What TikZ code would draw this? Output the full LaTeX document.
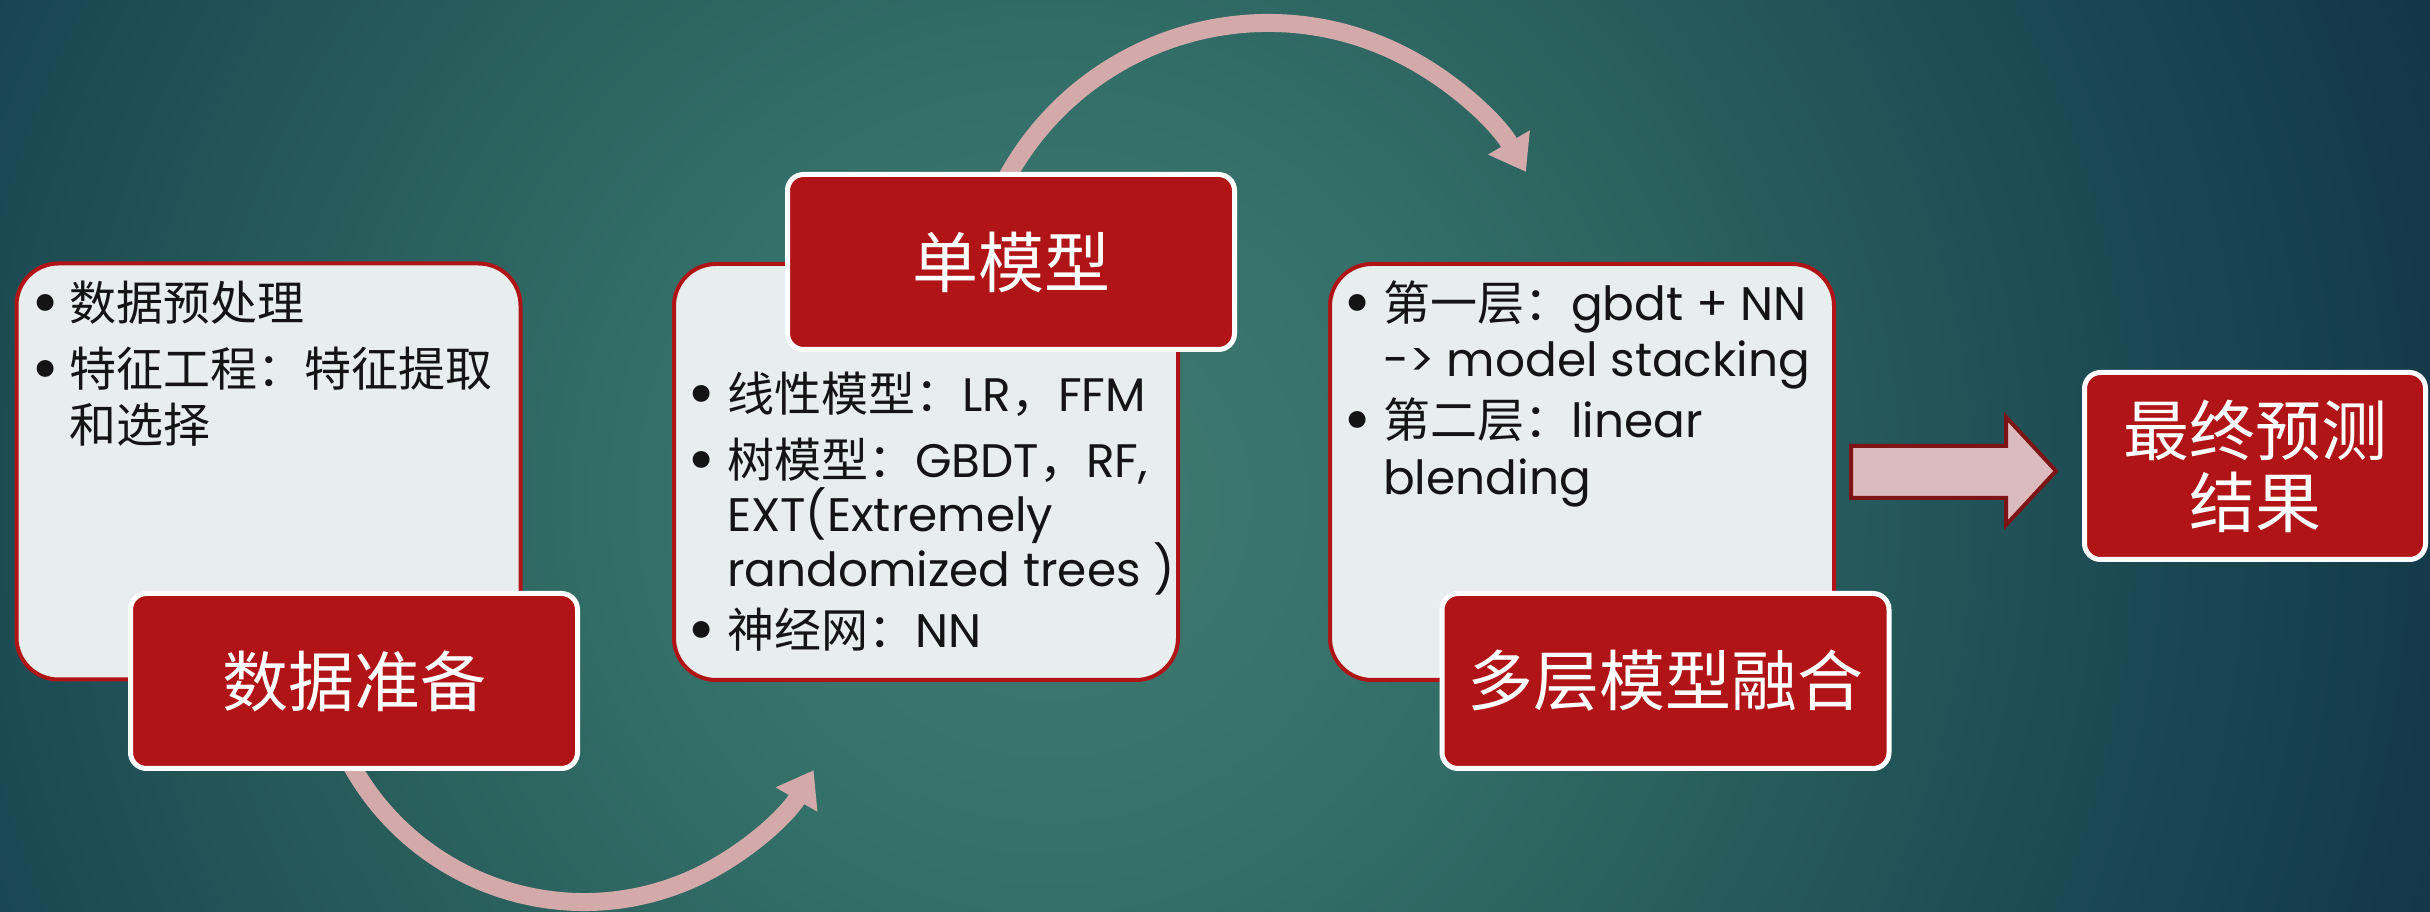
\documentclass[tikz,border=0pt]{standalone}
\usepackage{fontspec}
\setmainfont{Poppins}
\newfontfamily\cjk{Noto Sans CJK SC}
\newfontfamily\bulfont{DejaVu Sans}
\usetikzlibrary{arrows.meta}
\definecolor{boxred}{HTML}{B01416}
\definecolor{lightfill}{HTML}{E8EDED}
\definecolor{pinkarrow}{HTML}{D4A9A9}
\definecolor{blockfill}{HTML}{DCBBBC}
\definecolor{blockline}{HTML}{7D1416}
\definecolor{bgA}{HTML}{417B71}
\definecolor{bgB}{HTML}{34706A}
\definecolor{bgC}{HTML}{2A605D}
\definecolor{bgD}{HTML}{1A4752}
\definecolor{bgE}{HTML}{133747}
\definecolor{bgF}{HTML}{123444}
\definecolor{darktext}{HTML}{141414}
\pgfdeclareradialshading{bgshade}{\pgfpoint{0bp}{0bp}}{color(0bp)=(bgA); color(6.45bp)=(bgB); color(11bp)=(bgC); color(18.2bp)=(bgD); color(23.4bp)=(bgE); color(25bp)=(bgF); color(50bp)=(bgF)}
\begin{document}
\begin{tikzpicture}[x=1pt,y=1pt,
  lightbox/.style={draw=boxred, line width=4pt, fill=lightfill, rounded corners=42pt,
    minimum width=504pt, minimum height=416pt, inner sep=0pt},
  redbox/.style={draw=white, line width=5pt, fill=boxred, rounded corners=16pt,
    text=white, font=\cjk\fontsize{66}{72}\selectfont, align=center, inner sep=0pt},
  txt/.style={anchor=base west, inner sep=0pt, text=darktext, font=\fontsize{47}{55}\selectfont},
  bul/.style={anchor=base, inner sep=0pt, text=darktext, font=\bulfont\fontsize{58}{60}\selectfont},
  curvearrow/.style={draw=pinkarrow, line width=18pt, -{Triangle[width=46pt,length=34pt]}}
]
\useasboundingbox (0,0) rectangle (2430,912);
\begin{scope}
  \clip (0,0) rectangle (2430,912);
  \shade[shading=bgshade] (1050,412) circle (1550);
\end{scope}

% light content boxes
\node[lightbox] (L1) at (268.5,440.5) {};
\node[lightbox] (L2) at (926,440) {};
\node[lightbox] (L3) at (1582,440) {};

% curved arrows (behind the red boxes)
\coordinate (ca) at (584,276);
\coordinate (cb) at (1268,591.2);
\draw[curvearrow] (ca) ++(207:266) arc[start angle=207, end angle=329.7, radius=266];
\draw[curvearrow] (cb) ++(152:297.8) arc[start angle=152, end angle=30, radius=297.8];

% red title boxes
\node[redbox, minimum width=447pt, minimum height=175pt] (R1) at (354,231) {数据准备};
\node[redbox, minimum width=447pt, minimum height=175pt] (R2) at (1011,650) {单模型};
\node[redbox, minimum width=447pt, minimum height=175pt] (R3) at (1665.5,231) {多层模型融合};
\node[redbox, minimum width=341pt, minimum height=187pt] (R4) at (2255,446) {最终预测\\结果};

% block arrow
\draw[draw=blockline, line width=4pt, fill=blockfill, line join=miter]
  (1851,466) -- (2006,466) -- (2006,495) -- (2056,441) -- (2006,387) -- (2006,414) -- (1851,414) -- cycle;

% box 1 text
\node[bul] (b11) at (46,587) {•};
\node[txt] (t11) at (69,591) {\cjk 数据预处理};
\node[bul] (b12) at (46,521) {•};
\node[txt] (t12) at (69,525) {\cjk 特征工程：特征提取};
\node[txt] (t13) at (69,469) {\cjk 和选择};

% box 2 text
\node[bul] (b21) at (702,496) {•};
\node[txt] (t21) at (727,500) {{\cjk 线性模型：}LR{\cjk ，}FFM};
\node[bul] (b22) at (702,430) {•};
\node[txt] (t22) at (727,434) {{\cjk 树模型：}GBDT{\cjk ，}RF,};
\node[txt] (t23) at (727,380) {EXT(Extremely};
\node[txt] (t24) at (727,325) {randomized trees )};
\node[bul] (b25) at (702,260) {•};
\node[txt] (t25) at (727,264) {{\cjk 神经网：}NN};

% box 3 text
\node[bul] (b31) at (1358,587) {•};
\node[txt] (t31) at (1383,591) {{\cjk 第一层：}gbdt + NN};
\node[txt] (t32) at (1383,535) {-> model stacking};
\node[bul] (b33) at (1358,470) {•};
\node[txt] (t33) at (1383,474) {{\cjk 第二层：}linear};
\node[txt] (t34) at (1383,417) {blending};
\end{tikzpicture}
\end{document}
